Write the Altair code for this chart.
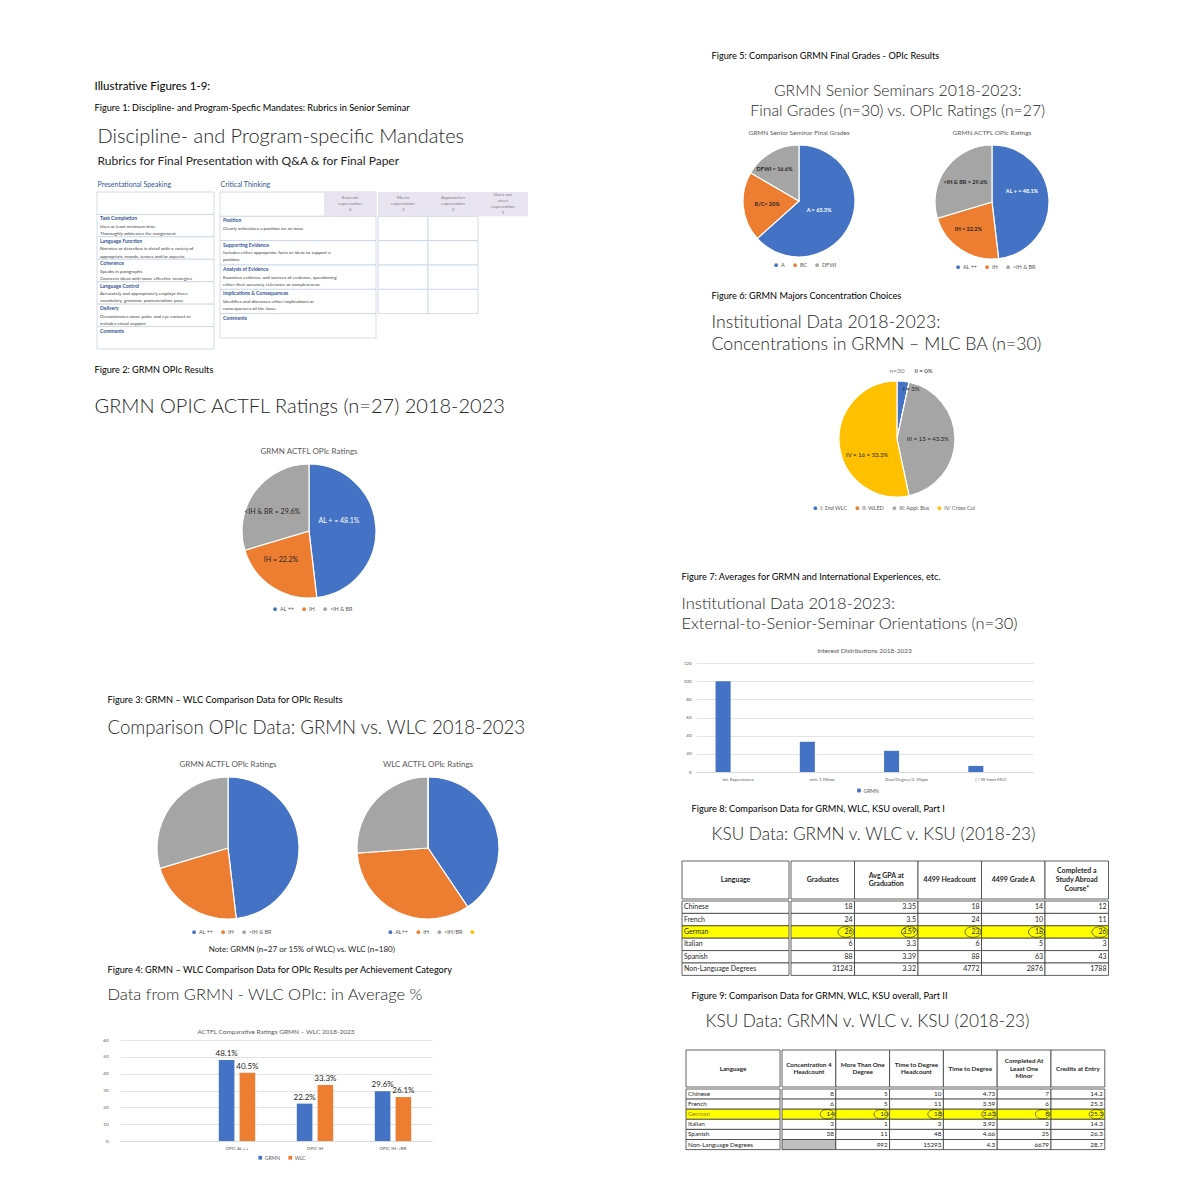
import altair as alt
import pandas as pd

FONT = "Lato"
BLUE, ORANGE, GRAY, YELLOW = "#4472C4", "#ED7D31", "#A5A5A5", "#FFC000"
INK = "#262626"
MUTED = "#595959"
CAP = 9.2

# ---------------- data ----------------
# Figure 1 rubric
ps_titles = ["", "Task Completion", "Language Function", "Coherence", "Language Control", "Delivery", "Comments"]
ps_desc = ["", "Uses at least minimum time\nThoroughly addresses the assignment",
           "Narrates or describes in detail with a variety of\nappropriate moods, tenses and/or aspects.",
           "Speaks in paragraphs\nConnects ideas with some effective strategies",
           "Accurately and appropriately employs three:\nvocabulary, grammar, pronunciation, pace",
           "Demonstrates some poise and eye contact or\nincludes visual support", ""]
ct_titles = ["", "Position", "Supporting Evidence", "Analysis of Evidence", "Implications & Consequences", "Comments"]
ct_desc = ["", "Clearly articulates a position on an issue",
           "Includes either appropriate facts or ideas to support a\nposition.",
           "Examines evidence and sources of evidence, questioning\neither their accuracy, relevance or completeness.",
           "Identifies and discusses either implications or\nconsequences of the issue.", ""]
rating_first = "Exceeds\nexpectation\n4"
rating_rest = ["Meets\nexpectation\n3", "Approaches\nexpectation\n2", "Does not\nmeet\nexpectation\n1"]

# Figure 2
f2_cats = ["AL ++", "IH", "<IH & BR"]
f2_vals = [48.1, 22.2, 29.6]
f2_labels = ["AL + = 48.1%", "IH = 22.2%", "<IH & BR = 29.6%"]

# Figure 3
f3_grmn_cats = ["AL ++", "IH", "<IH & BR"]
f3_grmn_vals = [48.1, 22.2, 29.6]
f3_wlc_cats = ["AL++", "IH", "<IH/BR", " "]
f3_wlc_vals = [40.5, 33.3, 26.1, 0]

# Figure 4
f4_cats = ["", "OPIC AL ++", "OPIC IH", "OPIC IH- /BR"]
f4_series = ["GRMN", "WLC"]
f4_grmn = [None, 48.1, 22.2, 29.6]
f4_wlc = [None, 40.5, 33.3, 26.1]

# Figure 5
f5_grade_cats = ["A", "BC", "DFWI"]
f5_grade_vals = [63.3, 20, 16.6]
f5_grade_labels = ["A = 63.3%", "B/C= 20%", "DFWI = 16.6%"]
f5_opic_cats = ["AL ++", "IH", "<IH & BR"]
f5_opic_vals = [48.1, 22.2, 29.6]
f5_opic_labels = ["AL + = 48.1%", "IH = 22.2%", "<IH & BR = 29.6%"]

# Figure 6
f6_cats = ["I: 2nd WLC", "II: WLED", "III: Appl. Bus", "IV: Cross Cul"]
f6_vals = [1, 0, 13, 16]
f6_labels = ["I = 3%", "II = 0%", "III = 13 = 43.3%", "IV = 16 = 53.3%"]

# Figure 7
f7_cats = ["Int. Experiences", "min. 1 Minor", "Dual Degree/2. Major", "I / W from MLC"]
f7_vals = [100, 33.3, 23.3, 6.7]

# Figure 8
t8_langs = ["Chinese", "French", "German", "Italian", "Spanish", "Non-Language Degrees"]
t8_headers = ["Graduates", "Avg GPA at\nGraduation", "4499 Headcount", "4499 Grade A", "Completed a\nStudy Abroad\nCourse*"]
t8_graduates = [18, 24, 26, 6, 88, 31243]
t8_gpa = ["3.35", "3.5", "3.59", "3.3", "3.39", "3.32"]
t8_head = [18, 24, 23, 6, 88, 4772]
t8_gradeA = [14, 10, 18, 5, 63, 2876]
t8_abroad = [12, 11, 26, 3, 43, 1788]

# Figure 9
t9_langs = ["Chinese", "French", "German", "Italian", "Spanish", "Non-Language Degrees"]
t9_headers = ["Concentration 4\nHeadcount", "More Than One\nDegree", "Time to Degree\nHeadcount",
              "Time to Degree", "Completed At\nLeast One\nMinor", "Credits at Entry"]
t9_conc = [8, 6, 14, 3, 38, None]
t9_more = [5, 5, 10, 1, 11, 992]
t9_ttdh = [10, 11, 18, 3, 48, 15293]
t9_ttd = ["4.73", "3.59", "3.63", "3.92", "4.66", "4.3"]
t9_minor = [7, 6, 8, 2, 25, 6679]
t9_credits = ["14.2", "25.3", "25.3", "14.3", "26.3", "28.7"]

HIGHLIGHT = "German"

# ---------------- helpers ----------------
DUMMY = pd.DataFrame({"z": [0]})
BAND = dict(type="band", paddingInner=0, paddingOuter=0)


def tp(text, size, color="black", anchor="start", dx=0, offset=4, weight="normal",
       subtitle=None, sub_size=None, sub_color=INK, sub_weight=300, sub_pad=4,
       orient="top", sub_line_h=None, line_h=None):
    kw = dict(text=text, fontSize=size, color=color, anchor=anchor, dx=dx, offset=offset,
              font=FONT, fontWeight=weight, orient=orient)
    if line_h:
        kw["lineHeight"] = line_h
    if subtitle is not None:
        kw.update(subtitle=subtitle, subtitleFontSize=sub_size, subtitleColor=sub_color,
                  subtitleFont=FONT, subtitleFontWeight=sub_weight, subtitlePadding=sub_pad)
        if sub_line_h:
            kw["subtitleLineHeight"] = sub_line_h
    return alt.TitleParams(**kw)


def spacer(w, h, title=None):
    c = alt.Chart(DUMMY).mark_point(opacity=0, size=1).encode(
        x=alt.value(0), y=alt.value(0)).properties(width=w, height=h)
    if title is not None:
        c = c.properties(title=title)
    return c


def ind(c):
    return c.resolve_scale(color="independent", x="independent", y="independent",
                           theta="independent", xOffset="independent").resolve_legend(color="independent")


def nlines(texts):
    return [t.count("\n") + 1 for t in texts]


def centered_text_layers(chart, counts, lh, enc, **mark):
    """multi-line text, vertically centred on its anchor"""
    out = []
    for k in sorted(set(counts)):
        out.append(chart.transform_filter(f"datum.nl == {k}").mark_text(
            dy=-(k - 1) * lh / 2, lineBreak="\n", lineHeight=lh, **mark).encode(**enc))
    return out


def centered_legend(labels, w, y, sym, fs=5.5):
    est = sum(4 + 2 + len(l) * fs * 0.5 for l in labels) + 7 * (len(labels) - 1)
    return alt.Legend(orient="none", legendX=max(0.0, (w - est) / 2), legendY=y, direction="horizontal",
                      title=None, symbolType=sym, symbolSize=14, labelFontSize=fs, labelColor=MUTED,
                      labelFont=FONT, columnPadding=7, symbolStrokeWidth=0, labelOffset=2, padding=0)


def rubric_text_layers(base, xsc, ysc, fs):
    tt = base.mark_text(align="left", baseline="top", dx=3, dy=2, fontSize=fs + 0.4,
                        color="#2F5597", fontWeight="bold", font=FONT).encode(
        x=alt.X("k:N", axis=None, scale=xsc, bandPosition=0),
        y=alt.Y("r:O", axis=None, scale=ysc, bandPosition=0), text="t:N")
    dd = base.mark_text(align="left", baseline="top", dx=3, dy=fs + 5, fontSize=fs,
                        color="#404040", font=FONT, lineBreak="\n", lineHeight=fs * 1.55).encode(
        x=alt.X("k:N", axis=None, scale=xsc, bandPosition=0),
        y=alt.Y("r:O", axis=None, scale=ysc, bandPosition=0), text="d:N")
    return [tt, dd]


def rubric_block(titles, desc, width, height, head, fs):
    df = pd.DataFrame({"r": list(range(len(titles))), "t": titles, "d": desc})
    base = alt.Chart(df).transform_calculate(k="'a'")
    ysc = alt.Scale(**BAND)
    cells = base.mark_rect(fill="white", stroke="#C5D3E3", strokeWidth=0.8).encode(
        y=alt.Y("r:O", axis=None, scale=ysc))
    layers = [cells] + rubric_text_layers(base, alt.Scale(**BAND), ysc, fs)
    return alt.layer(*layers).properties(
        width=width, height=height, title=tp(head, 7, color="#2F5597", offset=4, dx=1))


def criteria_block(width, height, fs):
    df = pd.DataFrame({"r": list(range(len(ct_titles))), "t": ct_titles, "d": ct_desc})
    ysc = alt.Scale(**BAND)
    xsc = alt.Scale(**BAND, domain=["a", "b", "c"])
    base = alt.Chart(df)
    cells = base.mark_rect(fill="white", stroke="#C5D3E3", strokeWidth=0.8).encode(
        y=alt.Y("r:O", axis=None, scale=ysc))
    hdr = alt.Chart(pd.DataFrame({"r": [0], "k": ["c"], "t": [rating_first], "nl": nlines([rating_first])}))
    hrect = hdr.mark_rect(fill="#E8E5F1").encode(
        x=alt.X("k:N", axis=None, scale=xsc), y=alt.Y("r:O", axis=None, scale=ysc))
    htext = centered_text_layers(hdr, nlines([rating_first]), 6,
                                 dict(x=alt.X("k:N", axis=None, scale=xsc),
                                      y=alt.Y("r:O", axis=None, scale=ysc), text="t:N"),
                                 fontSize=4.6, color="#7F7F7F", font=FONT)
    b2 = base.transform_calculate(k="'a'")
    layers = [cells, hrect] + htext + rubric_text_layers(b2, xsc, ysc, fs)
    return alt.layer(*layers).properties(
        width=width, height=height, title=tp("Critical Thinking", 7, color="#2F5597", offset=4, dx=1))


def ratings_block(width, height, nrows):
    hdr = pd.DataFrame({"c": list(range(len(rating_rest))), "t": rating_rest, "r": [0] * len(rating_rest),
                        "nl": nlines(rating_rest)})
    body = pd.DataFrame([{"c": c, "r": r} for r in range(1, nrows - 1) for c in range(2)])
    ysc = alt.Scale(**BAND, domain=list(range(nrows)))
    xsc = alt.Scale(**BAND, domain=list(range(len(rating_rest))))
    hrect = alt.Chart(hdr).mark_rect(fill="#E8E5F1").encode(
        x=alt.X("c:O", axis=None, scale=xsc), y=alt.Y("r:O", axis=None, scale=ysc))
    htext = centered_text_layers(alt.Chart(hdr), nlines(rating_rest), 6,
                                 dict(x=alt.X("c:O", axis=None, scale=xsc),
                                      y=alt.Y("r:O", axis=None, scale=ysc), text="t:N"),
                                 fontSize=4.6, color="#7F7F7F", font=FONT)
    brect = alt.Chart(body).mark_rect(fill="white", stroke="#C5D3E3", strokeWidth=0.8).encode(
        x=alt.X("c:O", axis=None, scale=xsc), y=alt.Y("r:O", axis=None, scale=ysc))
    return alt.layer(hrect, *htext, brect).properties(
        width=width, height=height, title=tp(" ", 7, offset=4))


def pie(cats, vals, labels, colors, radius, w, h, title, label_specs, white, label_fs,
        label_weight="normal", title_size=8, legend_gap=8, title_color=MUTED, title_offset=6):
    df = pd.DataFrame({"cat": cats, "v": vals, "o": list(range(len(cats))),
                       "lab": labels if labels else [""] * len(cats)})
    base = alt.Chart(df).encode(theta=alt.Theta("v:Q", stack=True), order=alt.Order("o:Q"))
    arc = base.mark_arc(outerRadius=radius, stroke="white", strokeWidth=1.2).encode(
        color=alt.Color("cat:N", scale=alt.Scale(domain=cats, range=colors),
                        legend=centered_legend(cats, w, h / 2 + radius + legend_gap, "circle")))
    layers = [arc]
    for cat, r, dx, dy in label_specs:
        layers.append(base.mark_text(radius=r, dx=dx, dy=dy, fontSize=label_fs, font=FONT,
                                     fontWeight=label_weight).encode(
            detail="cat:N",
            text=alt.condition(alt.FieldEqualPredicate(field="cat", equal=cat), "lab:N", alt.value("")),
            color=alt.condition(alt.FieldOneOfPredicate(field="cat", oneOf=white),
                                alt.value("white"), alt.value(INK))))
    return alt.layer(*layers).properties(
        width=w, height=h,
        title=tp(title, title_size, color=title_color, anchor="middle", offset=title_offset))


def bars(cats, series, values, colors, off_domain, width, height, ydom, yticks, title,
         minext, labpad, pI, pO, show_labels, title_size, xlab_fs, bar_title_offset, legend_gap):
    rows = []
    for s, vals in zip(series, values):
        for c, v in zip(cats, vals):
            rows.append({"cat": c, "s": s, "v": v})
    df = pd.DataFrame(rows)
    base = alt.Chart(df).transform_filter("isValid(datum.v)").encode(
        x=alt.X("cat:N", sort=cats, scale=alt.Scale(domain=cats, paddingInner=0, paddingOuter=0),
                axis=alt.Axis(title=None, labelFontSize=xlab_fs, labelColor=MUTED, ticks=False,
                              domainColor="#D9D9D9", labelPadding=4, labelAngle=0, labelFont=FONT)),
        xOffset=alt.XOffset("s:N", scale=alt.Scale(domain=off_domain, paddingInner=pI, paddingOuter=pO)),
        y=alt.Y("v:Q", scale=alt.Scale(domain=ydom),
                axis=alt.Axis(title=None, values=yticks, labelFontSize=4.5, labelColor=MUTED,
                              ticks=False, domain=False, gridColor="#D9D9D9", gridWidth=0.7,
                              minExtent=minext, labelPadding=labpad, labelFont=FONT)))
    b = base.mark_bar().encode(
        color=alt.Color("s:N", scale=alt.Scale(domain=series, range=colors),
                        legend=centered_legend(series, width, height + legend_gap, "square", fs=5)))
    layers = [b]
    if show_labels:
        layers.append(base.transform_calculate(lab="format(datum.v, '.1f') + '%'").mark_text(
            baseline="bottom", dy=-2, fontSize=8, color=INK, font=FONT).encode(
            text="lab:N", detail="s:N"))
    inner = alt.layer(*layers).properties(
        width=width, height=height,
        title=tp(title, title_size, color=MUTED, anchor="middle", offset=bar_title_offset))
    return ind(alt.hconcat(spacer(1, 20), inner, spacing=0))


def table(langs, headers, cols, lang_w, col_w, head_h, row_h, circled, fs, hfs, lang_hl_color,
          circle_size, title):
    n = len(langs)
    stroke = dict(stroke="#3A3A3A", strokeWidth=0.8)
    kx = alt.X("k:N", axis=None, scale=alt.Scale(**BAND))
    hl = alt.Chart(pd.DataFrame({"k": ["Language"]}))
    h_lang = alt.layer(
        hl.mark_rect(fill="white", **stroke).encode(x=kx),
        hl.mark_text(fontSize=hfs, fontWeight="bold", color=INK, font=FONT).encode(x=kx, text="k:N"),
    ).properties(width=lang_w, height=head_h)
    hd = alt.Chart(pd.DataFrame({"c": list(range(len(headers))), "t": headers, "nl": nlines(headers)}))
    cx = alt.X("c:O", axis=None, scale=alt.Scale(**BAND))
    h_nums = alt.layer(
        hd.mark_rect(fill="white", **stroke).encode(x=cx),
        *centered_text_layers(hd, nlines(headers), hfs * 1.25, dict(x=cx, text="t:N"),
                              fontSize=hfs, fontWeight="bold", color=INK, font=FONT),
    ).properties(width=col_w * len(headers), height=head_h)
    ld = pd.DataFrame({"r": list(range(n)), "t": langs, "k": ["Language"] * n})
    ry = alt.Y("r:O", axis=None, scale=alt.Scale(**BAND))
    lb = alt.Chart(ld).transform_calculate(
        fill=f"datum.t == '{HIGHLIGHT}' ? '#FFFF00' : 'white'",
        tc=f"datum.t == '{HIGHLIGHT}' ? '{lang_hl_color}' : '{INK}'")
    b_lang = alt.layer(
        lb.mark_rect(**stroke).encode(x=kx, y=ry, fill=alt.Fill("fill:N", scale=None)),
        lb.mark_text(align="left", dx=2, fontSize=fs, font=FONT).encode(
            x=alt.X("k:N", axis=None, scale=alt.Scale(**BAND), bandPosition=0), y=ry, text="t:N",
            color=alt.Color("tc:N", scale=None)),
    ).properties(width=lang_w, height=row_h * n)
    rows = []
    for j, col in enumerate(cols):
        for i, v in enumerate(col):
            rows.append({"r": i, "c": j, "t": "" if v is None else str(v),
                         "hl": langs[i] == HIGHLIGHT, "empty": v is None})
    bd = alt.Chart(pd.DataFrame(rows)).transform_calculate(
        fill="datum.hl ? '#FFFF00' : (datum.empty ? '#BFBFBF' : 'white')")
    layers = [
        bd.mark_rect(**stroke).encode(x=cx, y=ry, fill=alt.Fill("fill:N", scale=None)),
        bd.mark_text(align="right", dx=-2, fontSize=fs, color=INK, font=FONT).encode(
            x=alt.X("c:O", axis=None, scale=alt.Scale(**BAND), bandPosition=1), y=ry, text="t:N"),
    ]
    if circled:
        layers.append(bd.transform_filter("datum.hl").mark_point(
            shape="M-1,0A1,0.66,0,1,0,1,0A1,0.66,0,1,0,-1,0Z", filled=False, stroke="#1F1F1F",
            strokeWidth=0.9, size=circle_size).encode(
            x=alt.X("c:O", axis=None, scale=alt.Scale(**BAND), bandPosition=1 - 8.5 / col_w), y=ry))
    b_nums = alt.layer(*layers).properties(width=col_w * len(cols), height=row_h * n)
    return alt.vconcat(
        alt.hconcat(h_lang, h_nums, spacing=0),
        alt.hconcat(b_lang, b_nums, spacing=0),
        spacing=0).properties(title=title)


LW, RW = 450, 430

# ---------------- left column ----------------
intro = spacer(LW, 1, title=tp("Illustrative Figures 1-9:", 11.5, dx=4, offset=0,
                               subtitle="Figure 1: Discipline- and Program-Specfic Mandates: Rubrics in Senior Seminar",
                               sub_size=CAP, sub_color="black", sub_weight="normal", sub_pad=12))

rubric = alt.hconcat(
    spacer(5, 150),
    rubric_block(ps_titles, ps_desc, 117, 157, "Presentational Speaking", 4.6),
    spacer(3, 150),
    criteria_block(156, 146, 4.6),
    ratings_block(150, 146, len(ct_titles)),
    spacing=0).properties(title=tp("Discipline- and Program-specific Mandates", 20, color=INK, weight=300,
                                   dx=7, offset=14, subtitle="Rubrics for Final Presentation with Q&A & for Final Paper",
                                   sub_size=12, sub_weight="normal", sub_pad=9))

h2 = spacer(LW, 30, title=tp("Figure 2: GRMN OPIc Results", CAP, dx=4, offset=0,
                             subtitle="GRMN OPIC ACTFL Ratings (n=27) 2018-2023", sub_size=20, sub_pad=21))
p2 = pie(f2_cats, f2_vals, f2_labels, [BLUE, ORANGE, GRAY], 67, 436, 136, "GRMN ACTFL OPIc Ratings",
         [("AL ++", 30, 0, -8), ("IH", 40, -6, -4), ("<IH & BR", 46, 0, 8)], ["AL ++"], 7, legend_gap=8)

h3 = spacer(LW, 22, title=tp("Figure 3: GRMN – WLC Comparison Data for OPIc Results", CAP, dx=17, offset=0,
                             subtitle="Comparison OPIc Data: GRMN vs. WLC 2018-2023", sub_size=18.6, sub_pad=14))
p3 = ind(alt.hconcat(
    spacer(52, 140),
    pie(f3_grmn_cats, f3_grmn_vals, None, [BLUE, ORANGE, GRAY], 71, 170, 142, "GRMN ACTFL OPIc Ratings", [], [], 7,
        legend_gap=10),
    spacer(29, 140),
    pie(f3_wlc_cats, f3_wlc_vals, None, [BLUE, ORANGE, GRAY, YELLOW], 71, 170, 142, "WLC ACTFL OPIc Ratings", [], [], 7,
        legend_gap=10),
    spacing=0).properties(title=tp("Note: GRMN (n=27 or 15% of WLC) vs. WLC (n=180)", 8, color=INK,
                                   anchor="middle", orient="bottom", offset=10)))

h4 = spacer(LW, 24, title=tp("Figure 4: GRMN – WLC Comparison Data for OPIc Results per Achievement Category", CAP,
                             dx=17, offset=0, subtitle="Data from GRMN - WLC OPIc: in Average %", sub_size=16.5, sub_pad=12))
b4 = bars(f4_cats, f4_series, [f4_grmn, f4_wlc], [BLUE, ORANGE], ["_a", "GRMN", "WLC", "_b"], 312, 101, [0, 60],
          [0, 10, 20, 30, 40, 50, 60], "ACTFL Comparative Ratings GRMN – WLC 2018-2023",
          28, 12, 0.25, 0, True, 6.5, 4.5, 2, 14)

left = alt.vconcat(
    spacer(LW, 18), intro, spacer(LW, 10), rubric, spacer(LW, 15), h2, p2, spacer(LW, 81),
    h3, p3, spacer(LW, 10), h4, b4, spacing=0)
left = ind(left)

# ---------------- right column ----------------
h5 = spacer(RW, 21, title=tp("Figure 5: Comparison GRMN Final Grades - OPIc Results", CAP, dx=30, offset=0))
p5 = ind(alt.hconcat(
    spacer(42, 110),
    pie(f5_grade_cats, f5_grade_vals, f5_grade_labels, [BLUE, ORANGE, GRAY], 56, 150, 112,
        "GRMN Senior Seminar Final Grades", [("A", 22, 0, 0), ("BC", 32, 0, 0), ("DFWI", 37, -6, 0)],
        ["A"], 5.5, label_weight="bold", title_size=6.5, legend_gap=5),
    spacer(42, 110),
    pie(f5_opic_cats, f5_opic_vals, f5_opic_labels, [BLUE, ORANGE, GRAY], 57, 150, 114,
        "GRMN ACTFL OPIc Ratings", [("AL ++", 30, 0, -9), ("IH", 32, -6, 0), ("<IH & BR", 33, 0, 0)],
        ["AL ++"], 5.5, label_weight="bold", title_size=6.5, legend_gap=5),
    spacer(46, 110),
    spacing=0).properties(title=tp(["GRMN Senior Seminars 2018-2023:", "Final Grades (n=30) vs. OPIc Ratings (n=27)"],
                                   15.8, color=INK, weight=300, anchor="middle", offset=10, line_h=20)))

h6 = spacer(RW, 12, title=tp("Figure 6: GRMN Majors Concentration Choices", CAP, dx=30, offset=0,
                             subtitle=["Institutional Data 2018-2023:", "Concentrations in GRMN – MLC BA (n=30)"],
                             sub_size=17.7, sub_pad=13, sub_line_h=22))
p6 = pie(f6_cats, f6_vals, f6_labels, [BLUE, ORANGE, GRAY, YELLOW], 58, RW, 118, "n=30",
         [("I: 2nd WLC", 50, 9, 0), ("II: WLED", 70, 12, 0), ("III: Appl. Bus", 31, 0, 0),
          ("IV: Cross Cul", 30, 0, 13)], [], 6, title_size=6.5, title_color="#7F7F7F", title_offset=-8,
         legend_gap=8)

h7 = spacer(RW, 14, title=tp("Figure 7: Averages for GRMN and International Experiences, etc.", CAP, dx=0, offset=0,
                             subtitle=["Institutional Data 2018-2023:", "External-to-Senior-Seminar Orientations (n=30)"],
                             sub_size=16.5, sub_pad=14, sub_line_h=20))
b7 = bars(f7_cats, ["GRMN"], [f7_vals], [BLUE], ["GRMN", "_"], 337, 109, [0, 120],
          [0, 20, 40, 60, 80, 100, 120], "Interest Distributions 2018-2023", 13, 5, 0.5, 0.65, False, 6.5, 4.5,
          6, 16)

h8 = spacer(RW, 11, title=tp("Figure 8: Comparison Data for GRMN, WLC, KSU overall, Part I", CAP, dx=10, offset=0))
t8 = table(t8_langs, t8_headers, [t8_graduates, t8_gpa, t8_head, t8_gradeA, t8_abroad], 107, 63.5, 38, 12.4,
           True, 7, 7, INK, 260,
           tp("KSU Data: GRMN v. WLC v. KSU (2018-23)", 17.2, color=INK, weight=300, dx=30, offset=17))

h9 = spacer(RW, 11, title=tp("Figure 9: Comparison Data for GRMN, WLC, KSU overall, Part II", CAP, dx=10, offset=0))
t9 = ind(alt.hconcat(
    spacer(3, 50),
    table(t9_langs, t9_headers, [t9_conc, t9_more, t9_ttdh, t9_ttd, t9_minor, t9_credits], 94, 53.8, 37, 10.1,
          True, 6.3, 6.3, "#9C7A00", 200,
          tp("KSU Data: GRMN v. WLC v. KSU (2018-23)", 17.2, color=INK, weight=300, dx=20, offset=19)),
    spacing=0))

right = alt.vconcat(
    h5, p5, spacer(RW, 19), h6, p6, spacer(RW, 59), h7, b7, spacer(RW, 10), h8, t8, spacer(RW, 15), h9, t9,
    spacing=0)
right = ind(right)

chart = ind(alt.hconcat(left, right, spacing=140)).properties(
    padding={"left": 82, "top": 44, "right": 4, "bottom": 4}, background="white"
).configure(font=FONT).configure_view(stroke=None)

chart.save("out.html", embed_options={"renderer": "svg", "actions": False})
